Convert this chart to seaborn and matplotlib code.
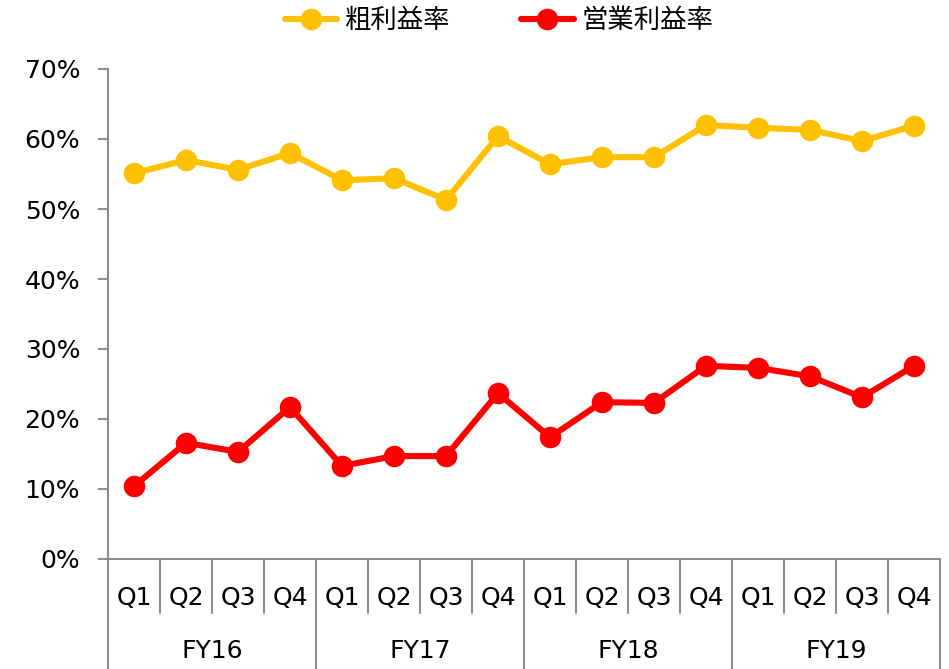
import matplotlib
matplotlib.use("Agg")
import matplotlib.pyplot as plt
import matplotlib.transforms as mtransforms
from matplotlib.lines import Line2D
import seaborn as sns
import pandas as pd
import numpy as np

years = ["FY16", "FY17", "FY18", "FY19"]
quarters = ["Q1", "Q2", "Q3", "Q4"]
gross_margin = [55.1, 57.0, 55.6, 58.0, 54.1, 54.4, 51.3, 60.4,
                56.4, 57.4, 57.4, 62.0, 61.6, 61.3, 59.7, 61.9]
op_margin = [10.4, 16.6, 15.3, 21.7, 13.3, 14.7, 14.7, 23.7,
             17.4, 22.4, 22.3, 27.6, 27.3, 26.1, 23.1, 27.6]
series_names = ["粗利益率", "営業利益率"]
colors = ["#FFC000", "#FF0000"]

sns.set_style("white")
plt.rcParams["font.family"] = ["DejaVu Sans", "Noto Sans CJK JP"]
plt.rcParams["text.color"] = "black"

n = len(gross_margin)
idx = np.arange(n)
df = pd.concat([
    pd.DataFrame({"x": idx, "val": np.array(gross_margin) / 100, "series": series_names[0]}),
    pd.DataFrame({"x": idx, "val": np.array(op_margin) / 100, "series": series_names[1]}),
])

fig = plt.figure(figsize=(9.49, 6.69), dpi=100)
ax = fig.add_axes([108 / 949, 110 / 669, 832 / 949, 490 / 669])

lw = 4.4
ms = 15.5
sns.lineplot(data=df, x="x", y="val", hue="series", palette=colors,
             hue_order=series_names, marker="o", markersize=ms,
             linewidth=lw, markeredgewidth=0, ax=ax, legend=False)

ax.set_xlim(-0.5, n - 0.5)
ax.set_ylim(0, 0.7)
yt = np.arange(0, 0.71, 0.1)
ax.set_yticks(yt)
ax.set_yticklabels([f"{int(round(v*100))}%" for v in yt], fontsize=18)
ax.set_xticks([])
ax.set_xlabel("")
ax.set_ylabel("")
gray = "#8C8C8C"
for s in ["top", "right"]:
    ax.spines[s].set_visible(False)
for s in ["left", "bottom"]:
    ax.spines[s].set_color(gray)
    ax.spines[s].set_linewidth(1.5)
ax.tick_params(axis="y", direction="out", length=7, width=1.5, color=gray,
               left=True, pad=13, labelcolor="black")

# multi-level category axis
trans = mtransforms.blended_transform_factory(ax.transData, ax.transAxes)
ax_h = 490.0
q_depth = 54 / ax_h
fy_depth = 112 / ax_h
for i in range(n + 1):
    xpos = i - 0.5
    depth = fy_depth if i % 4 == 0 else q_depth
    ax.plot([xpos, xpos], [0, -depth], transform=trans, color=gray,
            linewidth=1.5, clip_on=False)
for i in range(n):
    ax.text(i, -39 / ax_h, quarters[i % 4], transform=trans, ha="center",
            va="center", fontsize=18, color="black")
for j, y in enumerate(years):
    ax.text(j * 4 + 1.5, -92 / ax_h, y, transform=trans, ha="center",
            va="center", fontsize=18, color="black")

# legend
handles = [Line2D([0], [0], color=c, linewidth=lw, marker="o", markersize=ms,
                  markeredgewidth=0) for c in colors]
leg = fig.legend(handles, series_names, loc="center",
                 bbox_to_anchor=(499 / 949, 1 - 21 / 669),
                 ncol=2, frameon=False, fontsize=19, handlelength=2.0,
                 handletextpad=0.3, columnspacing=2.65)
for t in leg.get_texts():
    t.set_color("black")

fig.savefig("out.png", dpi=100, facecolor="white")
